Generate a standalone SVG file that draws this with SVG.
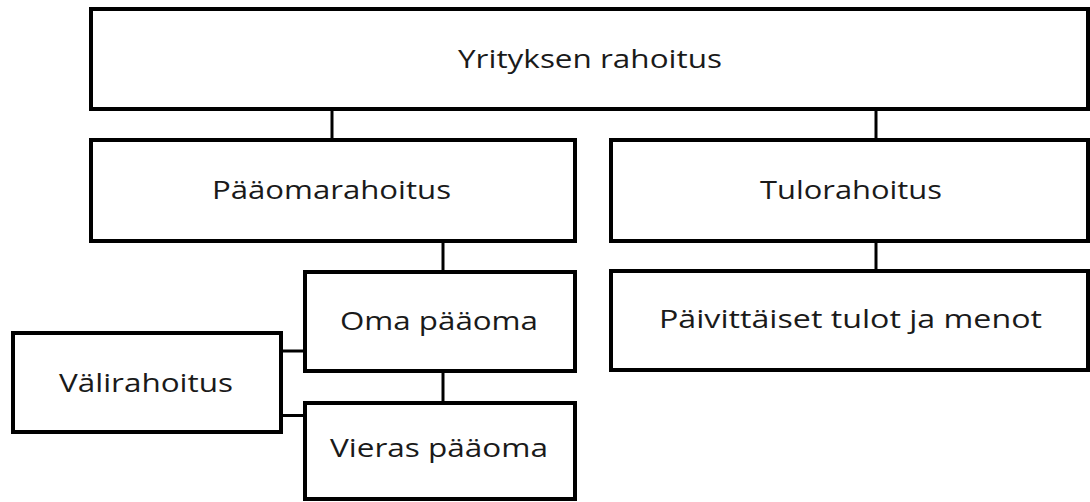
<svg xmlns="http://www.w3.org/2000/svg" width="1090" height="502" viewBox="0 0 1090 502">
<style>
.box{fill:#fff;stroke:#000;stroke-width:4}
.ln{stroke:#000;stroke-width:3;fill:none}
.t{font-family:"Open Sans","Noto Sans",sans-serif;font-size:25px;fill:#1a1a1a;text-anchor:middle}
</style>
<rect width="1090" height="502" fill="#fff"/>
<g id="connectors">
<line class="ln" x1="332" y1="111" x2="332" y2="140"/>
<line class="ln" x1="876" y1="111" x2="876" y2="140"/>
<line class="ln" x1="443" y1="242" x2="443" y2="272"/>
<line class="ln" x1="443" y1="372" x2="443" y2="403"/>
<line class="ln" x1="876" y1="242" x2="876" y2="272"/>
<line class="ln" x1="282" y1="351" x2="305" y2="351"/>
<line class="ln" x1="282" y1="415.5" x2="305" y2="415.5"/>
</g>
<g id="yrityksen-rahoitus">
<rect class="box" x="91" y="9" width="997" height="100"/>
<text class="t" x="590" y="68" textLength="264" lengthAdjust="spacingAndGlyphs">Yrityksen rahoitus</text>
</g>
<g id="paaomarahoitus">
<rect class="box" x="91" y="140" width="484" height="101"/>
<text class="t" x="331.5" y="199" textLength="239" lengthAdjust="spacingAndGlyphs">Pääomarahoitus</text>
</g>
<g id="tulorahoitus">
<rect class="box" x="611" y="140" width="477" height="101"/>
<text class="t" x="851" y="199" textLength="182" lengthAdjust="spacingAndGlyphs">Tulorahoitus</text>
</g>
<g id="oma-paaoma">
<rect class="box" x="305" y="272" width="270" height="99"/>
<text class="t" x="439" y="330" textLength="198" lengthAdjust="spacingAndGlyphs">Oma pääoma</text>
</g>
<g id="paivittaiset">
<rect class="box" x="611" y="271" width="477" height="99"/>
<text class="t" x="850.5" y="328" textLength="383" lengthAdjust="spacingAndGlyphs">Päivittäiset tulot ja menot</text>
</g>
<g id="valirahoitus">
<rect class="box" x="13" y="333" width="268" height="99"/>
<text class="t" x="146" y="392" textLength="174" lengthAdjust="spacingAndGlyphs">Välirahoitus</text>
</g>
<g id="vieras-paaoma">
<rect class="box" x="305" y="403" width="270" height="96"/>
<text class="t" x="439" y="457" textLength="218" lengthAdjust="spacingAndGlyphs">Vieras pääoma</text>
</g>
</svg>
